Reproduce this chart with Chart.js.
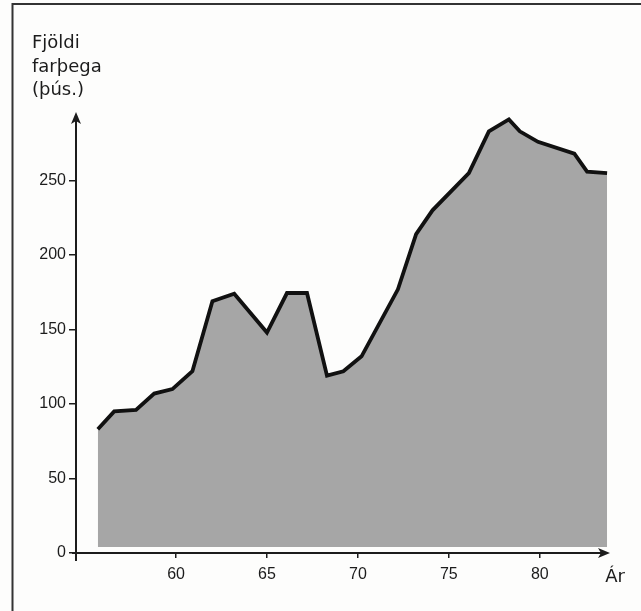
<!DOCTYPE html>
<html>
<head>
<meta charset="utf-8">
<script src="https://cdn.jsdelivr.net/npm/chart.js@4.4.1/dist/chart.umd.min.js"></script>
<style>
  html, body { margin: 0; padding: 0; background: #fdfdfc; }
  #wrap { width: 641px; height: 611px; position: relative; }
</style>
</head>
<body>
<div id="wrap"><canvas id="chart"></canvas></div>
<script>
// data (year, thousand passengers)
const years = [55.7, 56.6, 57.8, 58.8, 59.8, 60.9, 62.0, 63.2, 65.0, 66.1, 67.2, 68.3, 69.2, 70.2,
  72.2, 73.2, 74.1, 76.1, 77.2, 78.3, 78.9, 79.9, 81.9, 82.6, 83.7];
const passengers = [83, 95, 96, 107, 110, 122, 169, 174, 148, 174.5, 174.5, 119, 122, 132,
  177, 214, 230, 255, 283, 291, 283, 276, 268, 256, 255];
const xTicks = [60, 65, 70, 75, 80];
const yTicks = [0, 50, 100, 150, 200, 250];
const yLabel = ["Fjöldi", "farþega", "(þús.)"];
const xLabel = "Ár";

const ink = "#1c1c1c";
const font = "'Liberation Sans', Arial, sans-serif";
const titleFont = "'DejaVu Sans', sans-serif";

// frame, axes with arrows, and the axis titles
const decor = {
  id: "decor",
  beforeDraw(chart) {
    const c = chart.ctx;
    c.save();
    c.fillStyle = "#fdfdfc";
    c.fillRect(0, 0, chart.width, chart.height);
    c.strokeStyle = "#333";
    c.lineWidth = 2;
    c.beginPath();
    c.moveTo(12.5, chart.height);
    c.lineTo(12.5, 4);
    c.lineTo(chart.width, 4);
    c.stroke();
    c.restore();
  },
  afterDraw(chart) {
    const c = chart.ctx;
    const a = chart.chartArea;
    c.save();
    c.strokeStyle = ink;
    c.fillStyle = ink;
    c.lineWidth = 2;
    // y axis
    c.beginPath();
    c.moveTo(a.left, a.bottom + 8);
    c.lineTo(a.left, a.top + 4);
    c.stroke();
    c.beginPath();
    c.moveTo(a.left, a.top);
    c.lineTo(a.left - 5, a.top + 12);
    c.lineTo(a.left, a.top + 9);
    c.lineTo(a.left + 5, a.top + 12);
    c.closePath();
    c.fill();
    // x axis
    c.beginPath();
    c.moveTo(a.left - 4, a.bottom);
    c.lineTo(a.right - 4, a.bottom);
    c.stroke();
    c.beginPath();
    c.moveTo(a.right, a.bottom);
    c.lineTo(a.right - 12, a.bottom - 5);
    c.lineTo(a.right - 9, a.bottom);
    c.lineTo(a.right - 12, a.bottom + 5);
    c.closePath();
    c.fill();
    // titles
    c.font = "18px " + titleFont;
    c.textBaseline = "alphabetic";
    c.textAlign = "left";
    yLabel.forEach((t, i) => c.fillText(t, 32, 48 + i * 23.5));
    c.textAlign = "center";
    c.fillText(xLabel, a.right + 5, 582);
    c.restore();
  }
};

new Chart(document.getElementById("chart"), {
  type: "line",
  data: {
    datasets: [{
      data: years.map((y, i) => ({ x: y, y: passengers[i] })),
      borderColor: "#111",
      borderWidth: 3.8,
      borderJoinStyle: "miter",
      backgroundColor: "#a6a6a6",
      fill: { value: 4 },
      tension: 0,
      pointRadius: 0
    }]
  },
  options: {
    responsive: true,
    maintainAspectRatio: false,
    animation: false,
    layout: { padding: { left: 0, top: 112, right: 31, bottom: 0 } },
    plugins: { legend: { display: false }, tooltip: { enabled: false } },
    scales: {
      x: {
        type: "linear",
        min: 54.5,
        max: 83.86,
        afterBuildTicks: s => { s.ticks = xTicks.map(v => ({ value: v })); },
        afterFit: s => { s.height = 58; },
        border: { display: false },
        grid: { drawOnChartArea: false, drawTicks: true, tickLength: 5, color: ink, lineWidth: 1.5 },
        ticks: { color: ink, font: { family: font, size: 16 }, padding: 7, maxRotation: 0 }
      },
      y: {
        min: 0,
        max: 296,
        afterBuildTicks: s => { s.ticks = yTicks.map(v => ({ value: v })); },
        afterFit: s => { s.width = 76; },
        border: { display: false },
        grid: { drawOnChartArea: false, drawTicks: true, tickLength: 7, color: ink, lineWidth: 1.5 },
        ticks: { color: ink, font: { family: font, size: 16 }, padding: 3 }
      }
    }
  },
  plugins: [decor]
});
</script>
</body>
</html>
